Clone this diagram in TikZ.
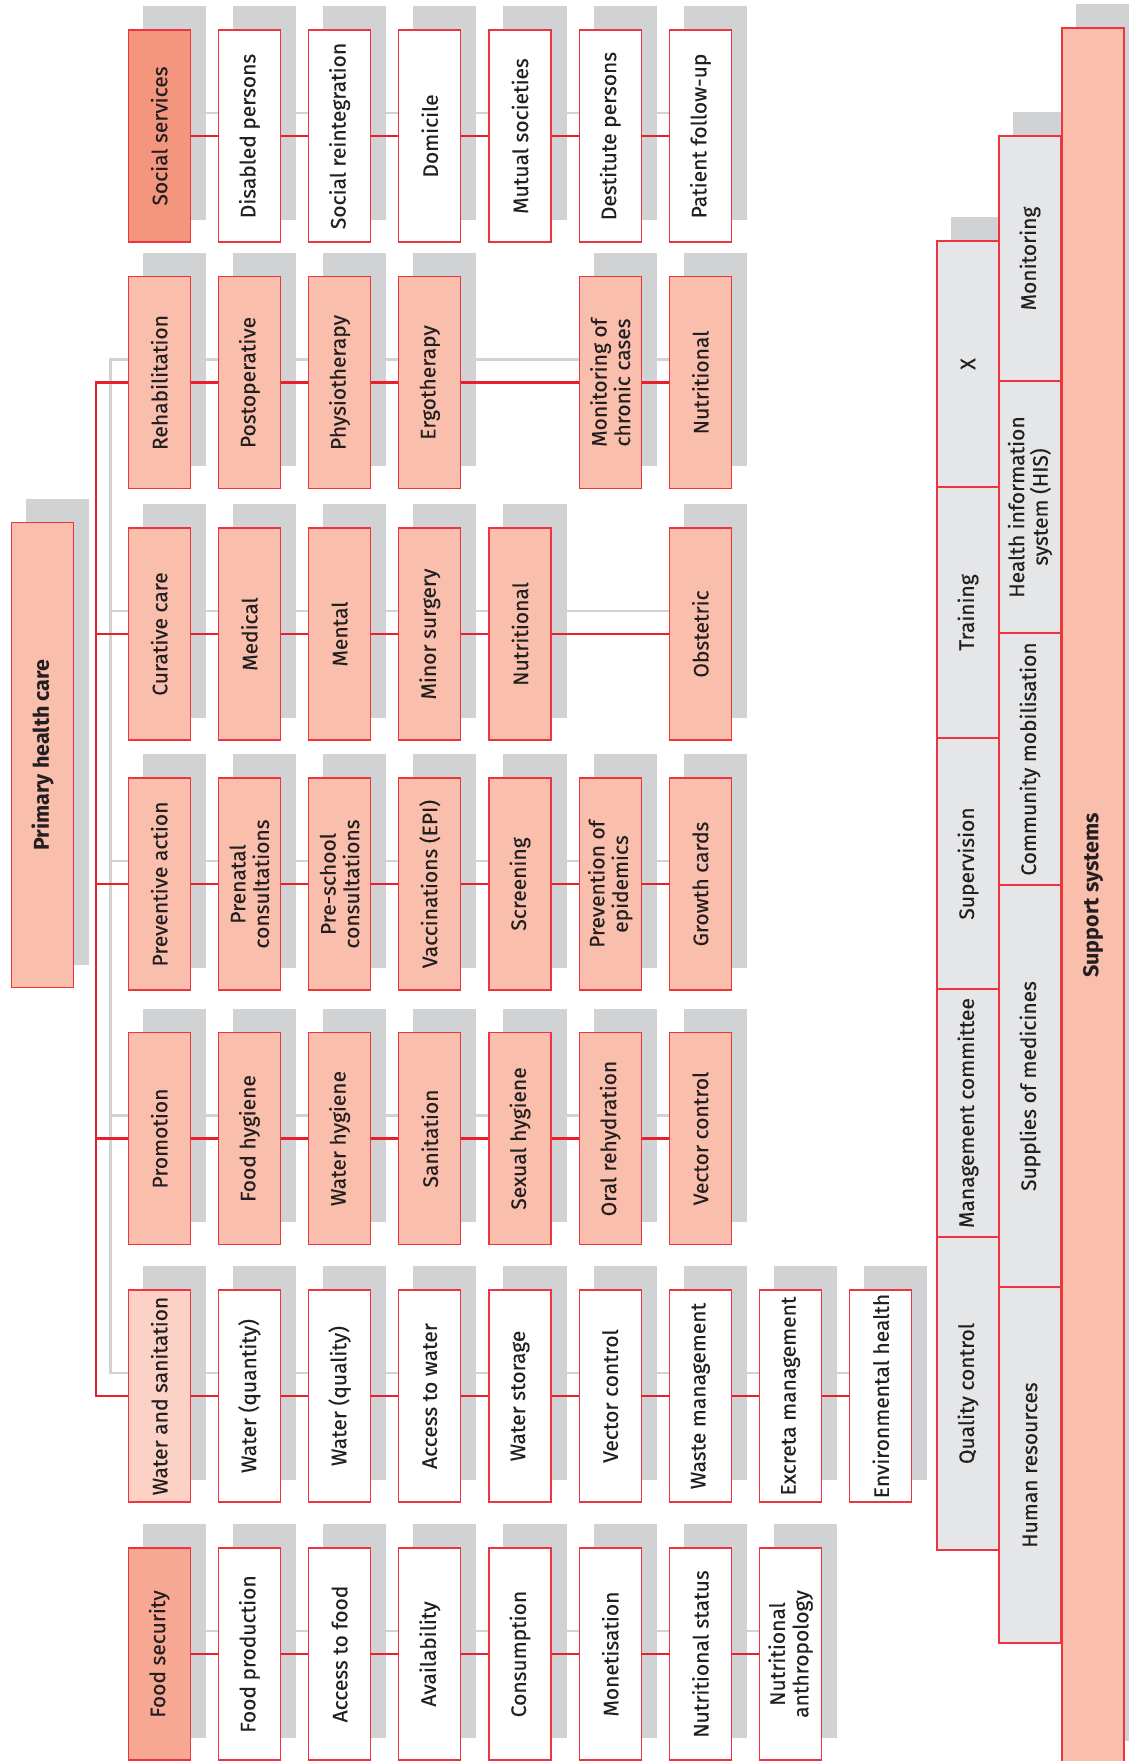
\documentclass[tikz,border=0pt]{standalone}
\usepackage{fontspec}
\setmainfont{Fira Sans}
\newfontfamily\tilefont{Fira Sans}[FakeBold=0.3]
\usepackage{tikz}
\usetikzlibrary{calc}
\definecolor{ink}{HTML}{231F20}
\definecolor{rulered}{HTML}{E8202D}
\definecolor{edgered}{HTML}{EE3440}
\definecolor{salmon}{HTML}{F9BEAC}
\definecolor{socbg}{HTML}{F4967E}
\definecolor{foodbg}{HTML}{F6A892}
\definecolor{watbg}{HTML}{FBD2C5}
\definecolor{aidbg}{HTML}{E5E6E7}
\definecolor{shadowgray}{HTML}{D1D2D4}
\pgfdeclarelayer{back}
\pgfsetlayers{back,main}
\tikzset{
  tile/.style={draw=edgered,line width=1.3pt,rotate=90,inner sep=1pt,
               minimum width=212pt,minimum height=62pt,align=center,
               text=ink,font=\fontsize{21}{23.5}\tilefont\bfseries\mdseries},
  kid/.style={tile,fill=white},
  care/.style={tile,fill=salmon},
  aid/.style={tile,fill=aidbg},
  boldtile/.style={font=\fontsize{21.5}{24}\selectfont\bfseries},
  redlink/.style={rulered,line width=2.3pt},
  greylink/.style={shadowgray,line width=2.5pt}
}
% box with its grey offset shadow (shadow centre kept as <name>s)
\newcommand{\shadowed}[4]{%
  \node[#1] (#2) at (#3) {#4};
  \coordinate (#2s) at ([shift={(15,-23)}]#2.center);
  \begin{pgfonlayer}{back}
    \fill[shadowgray] ([shift={(15,-23)}]#2.south west) rectangle ([shift={(15,-23)}]#2.north east);
  \end{pgfonlayer}}

\begin{document}
\begin{tikzpicture}[x=1pt,y=-1pt]
  \useasboundingbox (0,0) rectangle (1128,1761);

  % social services
  \shadowed{tile,fill=socbg}{soc0}{159.2,136}{Social services}
  \foreach \c/\lbl in {1/Disabled persons,2/Social reintegration,3/Domicile,
                       4/Mutual societies,5/Destitute persons,6/Patient follow-up} {
    \shadowed{kid}{soc\c}{{159.2+90.2*\c},136}{\lbl}
  }

  % rehabilitation
  \shadowed{care}{reh0}{159.2,382.5}{Rehabilitation}
  \foreach \c/\lbl in {1/Postoperative,2/Physiotherapy,3/Ergotherapy,
                       5/{Monitoring of\\chronic cases},6/Nutritional} {
    \shadowed{care}{reh\c}{{159.2+90.2*\c},382.5}{\lbl}
  }

  % curative care
  \shadowed{care}{cur0}{159.2,634}{Curative care}
  \foreach \c/\lbl in {1/Medical,2/Mental,3/Minor surgery,4/Nutritional,6/Obstetric} {
    \shadowed{care}{cur\c}{{159.2+90.2*\c},634}{\lbl}
  }

  % preventive action
  \shadowed{care}{pre0}{159.2,884}{Preventive action}
  \foreach \c/\lbl in {1/{Prenatal\\consultations},2/{Pre-school\\consultations},
                       3/Vaccinations (EPI),4/Screening,5/{Prevention of\\epidemics},
                       6/Growth cards} {
    \shadowed{care}{pre\c}{{159.2+90.2*\c},884}{\lbl}
  }

  % promotion
  \shadowed{care}{pro0}{159.2,1138.5}{Promotion}
  \foreach \c/\lbl in {1/Food hygiene,2/Water hygiene,3/Sanitation,4/Sexual hygiene,
                       5/Oral rehydration,6/Vector control} {
    \shadowed{care}{pro\c}{{159.2+90.2*\c},1138.5}{\lbl}
  }

  % water and sanitation
  \shadowed{tile,fill=watbg}{wat0}{159.2,1396}{Water and sanitation}
  \foreach \c/\lbl in {1/Water (quantity),2/Water (quality),3/Access to water,
                       4/Water storage,5/Vector control,6/Waste management,
                       7/Excreta management,8/Environmental health} {
    \shadowed{kid}{wat\c}{{159.2+90.2*\c},1396}{\lbl}
  }

  % food security
  \shadowed{tile,fill=foodbg}{food0}{159.2,1654}{Food security}
  \foreach \c/\lbl in {1/Food production,2/Access to food,3/Availability,4/Consumption,
                       5/Monetisation,6/Nutritional status,7/{Nutritional\\anthropology}} {
    \shadowed{kid}{food\c}{{159.2+90.2*\c},1654}{\lbl}
  }

  % primary health care
  \shadowed{care,boldtile,minimum width=465pt}{phc}{42.5,755.2}{Primary health care}

  % links along each row
  \foreach \rw/\cols/\last in {soc/{1,...,6}/6,reh/{1,2,3,5,6}/6,cur/{1,2,3,4,6}/6,
                               pre/{1,...,6}/6,pro/{1,...,6}/6,wat/{1,...,8}/8,
                               food/{1,...,7}/7} {
    \foreach \c [remember=\c as \p (initially 0)] in \cols {
      \draw[redlink] (\rw\p) -- (\rw\c);
    }
    \begin{pgfonlayer}{back}
      \draw[greylink] (\rw0s) -- (\rw\last s);
    \end{pgfonlayer}
  }

  % trunk
  \coordinate (redtrunk) at (95.7,382.5);
  \coordinate (greytrunk) at (110.7,359.5);
  \draw[redlink] (wat0) -| (redtrunk) -- (reh0);
  \foreach \rw in {cur,pre,pro} {
    \draw[redlink] (\rw0) -- (\rw0 -| redtrunk);
  }
  \begin{pgfonlayer}{back}
    \draw[greylink] (wat0s) -| (greytrunk) -- (reh0s);
    \foreach \rw in {cur,pre,pro} {
      \draw[greylink] (\rw0s) -- (\rw0s -| greytrunk);
    }
  \end{pgfonlayer}

  % support systems
  \foreach \y/\len/\lbl [count=\i] in {364/246/X,612.5/251/Training,863.5/251/Supervision,
                                      1113/248/Management committee,1393.5/313/Quality control} {
    \shadowed{aid,minimum width=\len pt}{aidA\i}{968,\y}{\lbl}
  }
  \foreach \y/\len/\lbl [count=\i] in {258.5/245/Monitoring,507/252/{Health information\\system (HIS)},
                                      759/252/Community mobilisation,1086/402/Supplies of medicines,
                                      1465/356/Human resources} {
    \shadowed{aid,minimum width=\len pt}{aidB\i}{1030,\y}{\lbl}
  }
  \shadowed{care,boldtile,minimum width=1735pt}{sup}{1093,895.5}{Support systems}
\end{tikzpicture}
\end{document}
